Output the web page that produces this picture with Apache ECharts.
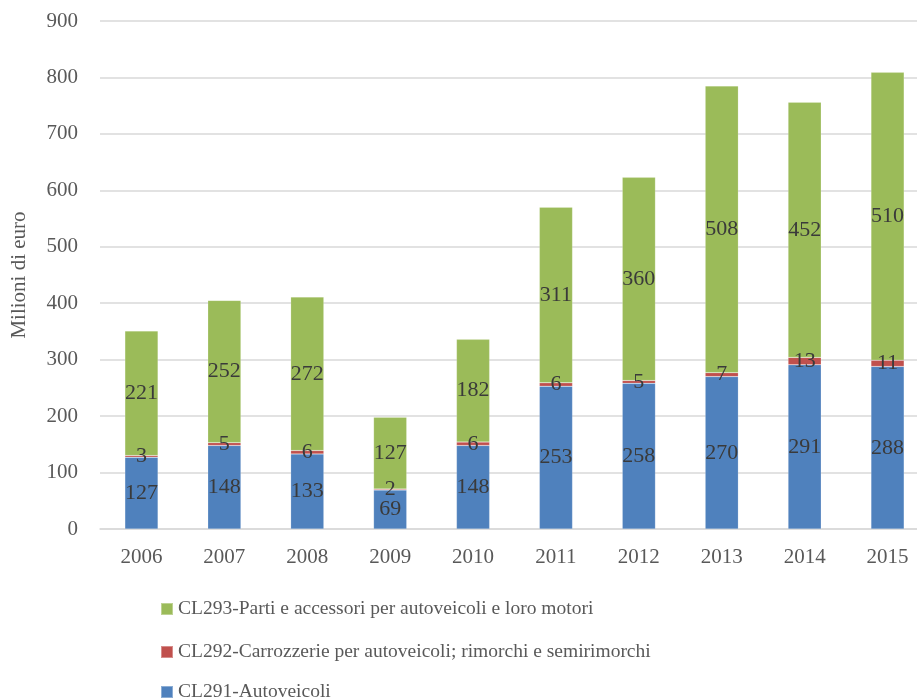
<!DOCTYPE html>
<html>
<head>
<meta charset="utf-8">
<script src="https://cdn.jsdelivr.net/npm/echarts@6/dist/echarts.min.js"></script>
<style>
  html, body { margin: 0; padding: 0; background: #fff; }
  #chart { width: 917px; height: 700px; }
</style>
</head>
<body>
<div id="chart"></div>
<script>
const years = ['2006', '2007', '2008', '2009', '2010', '2011', '2012', '2013', '2014', '2015'];
const autoveicoli = [127, 148, 133, 69, 148, 253, 258, 270, 291, 288];
const carrozzerie = [3, 5, 6, 2, 6, 6, 5, 7, 13, 11];
const parti = [221, 252, 272, 127, 182, 311, 360, 508, 452, 510];
const yTicks = [0, 100, 200, 300, 400, 500, 600, 700, 800, 900];

const names = [
  'CL291-Autoveicoli',
  'CL292-Carrozzerie per autoveicoli; rimorchi e semirimorchi',
  'CL293-Parti e accessori per autoveicoli e loro motori'
];
const font = '"Liberation Serif", "DejaVu Serif", serif';

const chart = echarts.init(document.getElementById('chart'));

function bar(name, data, color) {
  return {
    name: name,
    type: 'bar',
    stack: 'tot',
    data: data,
    barWidth: '40%',
    itemStyle: { color: color, borderColor: 'rgba(255,255,255,0.35)', borderWidth: 0.5 },
    label: {
      show: true,
      position: 'inside',
      color: '#3a3a3a',
      fontFamily: font,
      fontSize: 22
    }
  };
}

// one legend per row, like the stacked list in the reference
function legendRow(name, top) {
  return {
    data: [name],
    left: 160,
    top: top,
    padding: 0,
    itemWidth: 12,
    itemHeight: 12,
    icon: 'rect',
    textStyle: { fontFamily: font, fontSize: 19.5, color: '#595959' }
  };
}

chart.setOption({
  animation: false,
  textStyle: { fontFamily: font },
  grid: { left: 100, right: -12, top: 21, bottom: 171, outerBoundsMode: 'none', containLabel: false },
  legend: [
    legendRow(names[2], 599),
    legendRow(names[1], 642),
    legendRow(names[0], 682)
  ],
  xAxis: {
    type: 'category',
    data: years,
    axisLine: { lineStyle: { color: '#d9d9d9', width: 1.5 } },
    axisTick: { show: false },
    axisLabel: { color: '#595959', fontSize: 21, margin: 18, fontFamily: font }
  },
  yAxis: {
    type: 'value',
    min: yTicks[0],
    max: yTicks[yTicks.length - 1],
    interval: 100,
    name: 'Milioni di euro',
    nameLocation: 'middle',
    nameGap: 70,
    nameTextStyle: { color: '#595959', fontSize: 21, fontFamily: font },
    axisLine: { show: false },
    axisTick: { show: false },
    axisLabel: { color: '#595959', fontSize: 21, margin: 22, fontFamily: font },
    splitLine: { lineStyle: { color: '#d9d9d9', width: 1.5 } }
  },
  series: [
    bar(names[0], autoveicoli, '#4f81bd'),
    bar(names[1], carrozzerie, '#c0504d'),
    bar(names[2], parti, '#9bbb59')
  ]
});
</script>
</body>
</html>
